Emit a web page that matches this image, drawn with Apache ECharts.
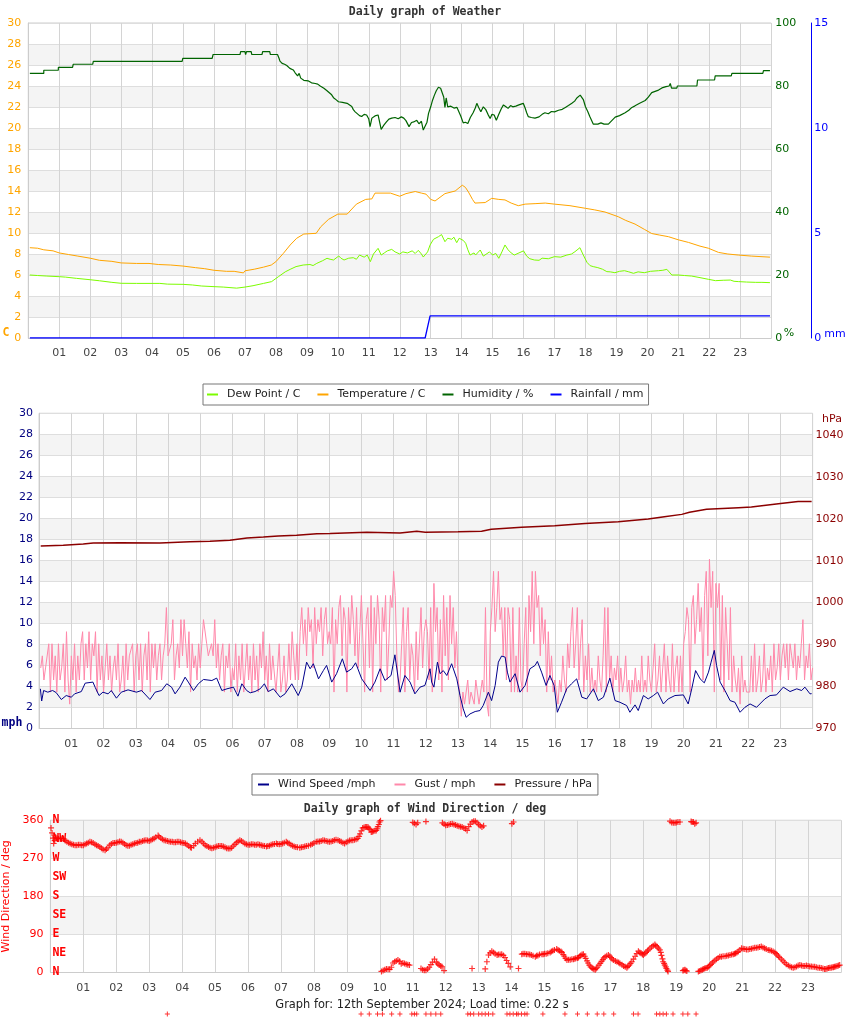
<!DOCTYPE html>
<html><head><meta charset="utf-8">
<script src="https://cdn.jsdelivr.net/npm/echarts@6/dist/echarts.min.js"></script>
<style>html,body{margin:0;padding:0;background:#fff}#c{width:850px;height:1017px}</style>
</head><body><div id="c"></div>
<script>
// ---------- tick labels ----------
const hourLabels = ['01','02','03','04','05','06','07','08','09','10','11','12','13','14','15','16','17','18','19','20','21','22','23'];
const compassLabels = ['N','NE','E','SE','S','SW','W','NW','N'];

// ---------- Panel 1 : weather ([hour, value]) ----------
const temperature = [[0.05,8.6],[0.3,8.55],[0.5,8.4],[0.8,8.3],[1.0,8.1],[1.3,7.95],[1.6,7.8],[2.0,7.6],[2.3,7.4],[2.7,7.3],[3.0,7.15],[3.5,7.1],[3.9,7.1],[4.2,7.0],[4.6,6.95],[5.0,6.85],[5.4,6.7],[5.7,6.6],[6.0,6.45],[6.4,6.35],[6.65,6.35],[6.7,6.2],[6.95,6.2],[7.0,6.4],[7.3,6.55],[7.6,6.75],[7.85,6.95],[8.0,7.27],[8.24,8.06],[8.46,8.86],[8.67,9.5],[8.9,9.9],[9.3,9.97],[9.45,10.6],[9.7,11.3],[10.0,11.8],[10.3,11.8],[10.6,12.75],[10.9,13.2],[11.1,13.25],[11.2,13.8],[11.7,13.8],[12.0,13.5],[12.2,13.75],[12.5,13.95],[12.7,13.8],[12.85,13.7],[13.0,13.2],[13.14,13.05],[13.3,13.4],[13.46,13.75],[13.79,14.0],[14.02,14.55],[14.12,14.35],[14.22,13.9],[14.35,13.2],[14.43,12.85],[14.76,12.9],[14.97,13.3],[15.2,13.2],[15.4,13.15],[15.6,12.85],[15.83,12.6],[16.05,12.75],[16.4,12.8],[16.7,12.85],[17.0,12.75],[17.5,12.6],[18.0,12.35],[18.3,12.2],[18.63,12.0],[19.06,11.55],[19.3,11.2],[19.6,10.85],[19.9,10.35],[20.14,9.95],[20.4,9.8],[20.68,9.65],[21.0,9.35],[21.33,9.1],[21.7,8.75],[21.97,8.55],[22.3,8.15],[22.6,8.0],[22.94,7.9],[23.37,7.8],[23.96,7.7]];

const dewPoint = [[0.05,6.0],[0.3,5.95],[0.6,5.9],[1.0,5.84],[1.2,5.8],[1.56,5.68],[2.0,5.55],[2.3,5.45],[2.7,5.3],[3.0,5.21],[3.5,5.2],[4.25,5.2],[4.5,5.13],[5.0,5.11],[5.3,5.05],[5.6,4.95],[6.0,4.89],[6.3,4.85],[6.73,4.75],[7.0,4.85],[7.26,4.98],[7.6,5.2],[7.86,5.37],[8.08,5.84],[8.3,6.3],[8.46,6.54],[8.65,6.8],[8.88,6.95],[9.1,7.0],[9.2,6.9],[9.32,7.11],[9.5,7.35],[9.65,7.59],[9.75,7.5],[9.86,7.43],[10.03,7.81],[10.1,7.6],[10.2,7.43],[10.35,7.6],[10.5,7.65],[10.6,7.5],[10.7,7.9],[10.85,7.7],[10.95,7.9],[11.05,7.27],[11.15,8.0],[11.3,8.54],[11.4,7.9],[11.5,8.1],[11.6,8.3],[11.74,8.44],[11.85,8.2],[12.0,8.0],[12.1,8.2],[12.25,8.1],[12.4,8.3],[12.5,8.05],[12.6,8.35],[12.7,8.0],[12.76,7.71],[12.82,7.68],[12.9,8.2],[12.98,8.86],[13.09,9.4],[13.25,9.65],[13.35,9.85],[13.41,9.9],[13.46,9.17],[13.55,9.5],[13.68,9.4],[13.75,9.6],[13.84,9.08],[13.92,9.5],[13.98,9.59],[14.05,9.3],[14.13,9.02],[14.2,8.4],[14.27,7.9],[14.4,8.1],[14.45,7.9],[14.6,8.38],[14.7,7.8],[14.76,7.75],[14.9,8.2],[15.0,7.9],[15.1,8.06],[15.2,7.59],[15.3,8.2],[15.4,8.86],[15.5,8.4],[15.6,8.1],[15.7,7.9],[15.85,8.1],[16.0,8.3],[16.1,7.8],[16.2,7.55],[16.35,7.43],[16.5,7.4],[16.6,7.6],[16.8,7.55],[17.0,7.75],[17.2,7.7],[17.4,7.9],[17.55,8.0],[17.66,8.22],[17.82,8.6],[17.93,7.9],[18.05,7.2],[18.15,6.89],[18.25,6.8],[18.4,6.7],[18.55,6.55],[18.69,6.32],[18.8,6.3],[18.95,6.22],[19.1,6.35],[19.26,6.41],[19.4,6.3],[19.55,6.16],[19.7,6.3],[19.9,6.22],[20.1,6.35],[20.36,6.41],[20.5,6.45],[20.63,6.54],[20.7,6.3],[20.79,6.0],[21.0,6.0],[21.2,5.95],[21.43,5.9],[21.7,5.75],[21.97,5.59],[22.2,5.46],[22.45,5.5],[22.68,5.52],[22.8,5.4],[22.95,5.37],[23.2,5.33],[23.5,5.3],[23.7,5.3],[23.96,5.27]];

const humidity = [[0.05,84.0],[0.5,84.0],[0.5,85.0],[0.97,85.0],[0.97,85.9],[1.43,85.9],[1.45,86.9],[2.08,86.9],[2.1,87.8],[4.97,87.8],[4.99,88.8],[5.94,88.8],[5.97,90.0],[6.84,90.0],[6.86,90.9],[7.0,90.9],[7.02,90.0],[7.05,90.9],[7.2,90.9],[7.22,90.0],[7.55,90.0],[7.57,90.9],[7.8,90.9],[7.82,90.0],[8.05,90.0],[8.1,88.8],[8.13,87.9],[8.2,87.2],[8.28,86.9],[8.35,86.5],[8.45,85.6],[8.56,85.1],[8.62,84.2],[8.7,83.2],[8.75,84.0],[8.8,82.5],[8.9,81.8],[8.95,81.4],[9.05,81.6],[9.15,81.0],[9.27,80.8],[9.35,80.6],[9.43,80.0],[9.55,79.3],[9.65,78.5],[9.7,78.2],[9.8,77.2],[9.86,76.3],[9.95,75.6],[10.02,75.0],[10.15,74.8],[10.3,74.5],[10.35,74.0],[10.45,73.5],[10.5,72.5],[10.56,71.8],[10.62,72.2],[10.7,70.6],[10.77,70.3],[10.85,71.0],[10.93,70.8],[11.0,69.5],[11.04,67.1],[11.1,69.8],[11.2,70.5],[11.3,70.8],[11.35,68.5],[11.4,66.2],[11.48,67.5],[11.57,68.6],[11.65,69.5],[11.74,69.8],[11.85,70.0],[11.95,69.6],[12.05,70.2],[12.13,69.8],[12.2,69.0],[12.3,67.1],[12.38,68.4],[12.45,68.6],[12.55,69.1],[12.62,68.0],[12.7,68.8],[12.76,66.0],[12.82,66.0],[12.88,68.5],[12.93,71.3],[13.0,73.4],[13.06,75.5],[13.12,77.1],[13.18,78.5],[13.25,79.6],[13.32,79.3],[13.38,78.9],[13.42,76.5],[13.46,73.2],[13.5,76.2],[13.55,73.4],[13.65,73.6],[13.75,73.0],[13.85,73.2],[13.9,72.9],[13.97,70.5],[14.05,68.3],[14.12,68.5],[14.2,68.1],[14.28,70.0],[14.37,71.5],[14.44,73.0],[14.49,74.5],[14.55,73.2],[14.62,71.8],[14.7,73.4],[14.78,72.5],[14.85,71.0],[14.92,69.7],[14.98,71.0],[15.05,70.8],[15.12,69.1],[15.2,71.0],[15.28,72.8],[15.35,74.0],[15.42,73.5],[15.5,72.9],[15.58,73.8],[15.65,73.4],[15.75,73.6],[15.85,74.0],[15.99,74.5],[16.05,73.0],[16.1,71.5],[16.15,70.3],[16.25,70.0],[16.37,69.8],[16.5,70.2],[16.6,71.0],[16.69,71.5],[16.8,71.2],[16.9,71.9],[17.0,71.8],[17.13,72.3],[17.25,72.6],[17.35,73.2],[17.45,73.8],[17.56,74.5],[17.65,75.2],[17.72,76.2],[17.83,77.1],[17.93,75.7],[18.0,73.4],[18.07,72.0],[18.14,70.3],[18.25,67.9],[18.4,67.9],[18.5,68.3],[18.6,67.9],[18.74,67.9],[18.85,69.0],[18.96,70.1],[19.1,70.6],[19.28,71.5],[19.4,72.3],[19.5,73.2],[19.6,73.7],[19.75,74.5],[19.93,75.4],[20.03,76.5],[20.14,77.9],[20.25,78.3],[20.36,78.7],[20.47,79.4],[20.6,79.8],[20.7,80.0],[20.74,80.8],[20.78,79.3],[20.95,79.3],[20.97,80.0],[21.6,80.0],[21.62,81.9],[22.17,81.9],[22.19,83.2],[22.71,83.2],[22.73,84.0],[23.73,84.0],[23.75,84.9],[23.8,84.3],[23.85,84.9],[23.9,84.4],[23.96,84.9]];

const rainfall = [[0.05,0],[12.82,0],[12.98,1.05],[23.96,1.05]];

// ---------- Panel 2 : wind ----------
const windSpeed = [[0.04,3.76],[0.08,2.6],[0.14,3.6],[0.27,3.44],[0.42,3.6],[0.53,3.4],[0.69,2.74],[0.84,3.12],[1.0,2.96],[1.1,3.28],[1.31,3.5],[1.43,4.3],[1.67,4.4],[1.74,3.9],[1.86,3.12],[1.98,3.44],[2.14,3.28],[2.24,3.6],[2.4,2.87],[2.55,3.44],[2.76,3.66],[3.02,3.44],[3.18,3.6],[3.44,2.74],[3.6,3.44],[3.8,3.6],[3.96,4.24],[4.11,3.92],[4.22,3.28],[4.37,3.92],[4.53,4.87],[4.63,4.4],[4.79,3.6],[4.94,4.24],[5.1,4.65],[5.36,4.55],[5.51,4.78],[5.67,3.6],[5.83,3.76],[6.03,3.92],[6.17,3.06],[6.29,4.24],[6.44,3.6],[6.55,3.38],[6.7,3.5],[6.86,3.76],[6.99,4.24],[7.11,3.5],[7.27,3.76],[7.48,2.96],[7.63,3.28],[7.84,4.24],[8.04,3.12],[8.15,3.92],[8.3,6.3],[8.41,5.67],[8.51,6.15],[8.67,4.71],[8.82,5.5],[8.92,5.99],[9.08,4.4],[9.23,5.2],[9.41,6.62],[9.54,5.35],[9.7,5.67],[9.82,6.24],[10.01,4.71],[10.27,3.6],[10.42,4.4],[10.58,5.67],[10.73,4.55],[10.92,5.03],[11.04,7.0],[11.2,3.44],[11.35,5.03],[11.51,4.4],[11.66,3.28],[11.82,3.92],[11.97,4.08],[12.13,5.67],[12.18,4.4],[12.25,3.92],[12.36,6.3],[12.44,5.2],[12.54,5.5],[12.65,5.03],[12.8,6.15],[12.96,4.71],[13.06,3.12],[13.16,1.85],[13.25,1.05],[13.37,1.37],[13.53,1.6],[13.68,1.69],[13.78,2.17],[13.94,3.44],[14.04,2.64],[14.15,4.08],[14.25,6.3],[14.35,6.88],[14.46,6.78],[14.53,5.35],[14.61,4.4],[14.77,5.2],[14.92,3.44],[15.08,4.08],[15.23,5.67],[15.39,5.99],[15.46,6.37],[15.59,5.35],[15.73,4.08],[15.85,5.03],[15.98,4.08],[16.08,1.53],[16.21,2.48],[16.37,3.76],[16.52,4.24],[16.68,4.71],[16.84,2.96],[16.99,2.8],[17.2,3.76],[17.35,2.64],[17.51,2.96],[17.71,4.78],[17.87,2.64],[18.02,2.48],[18.23,2.17],[18.33,1.53],[18.49,2.23],[18.59,1.69],[18.75,3.12],[18.9,2.8],[19.06,3.12],[19.19,3.44],[19.37,2.32],[19.52,2.8],[19.73,3.12],[19.99,3.18],[20.14,2.32],[20.25,3.76],[20.37,5.5],[20.51,4.71],[20.64,4.33],[20.77,5.35],[20.85,6.3],[20.95,7.42],[21.02,5.99],[21.13,4.4],[21.28,3.6],[21.44,2.64],[21.59,2.48],[21.75,1.53],[21.9,2.0],[22.06,2.32],[22.26,2.0],[22.52,2.8],[22.68,3.12],[22.88,3.18],[23.09,3.92],[23.3,3.5],[23.51,3.76],[23.66,3.6],[23.76,3.92],[23.92,3.28],[23.97,3.3]];

// gust, one reading every 3 minutes from 00:03
const gustStartHour = 0.05, gustStepHour = 0.05;
const gust = [
5.75,6.9,4.6,5.75,5.75,8.05,3.45,8.05,4.6,6.9,3.45,8.05,4.6,5.75,8.05,3.45,9.2,4.6,2.3,6.9,
4.6,8.05,3.45,6.9,4.6,8.05,9.2,4.6,8.05,5.75,9.2,4.6,8.05,6.9,9.2,3.45,8.05,4.6,6.9,3.45,
5.75,8.05,4.6,6.9,3.45,5.75,6.9,4.6,8.05,3.45,4.6,6.9,3.45,8.05,4.6,6.9,6.9,8.05,3.45,6.9,
8.05,4.6,8.05,3.45,6.9,8.05,4.6,9.2,3.45,8.05,5.75,8.05,4.6,6.9,8.05,4.6,6.9,8.05,11.5,6.9,
6.9,8.05,10.35,4.6,6.9,8.05,5.75,10.35,6.9,10.35,8.05,5.75,9.2,3.45,8.05,5.75,6.9,4.6,8.05,5.75,
8.05,10.35,10.35,8.05,6.9,6.9,8.05,6.9,10.35,5.75,8.05,4.6,6.9,8.05,3.45,6.9,5.75,8.05,3.45,5.75,
4.6,8.05,3.45,6.9,4.6,8.05,3.45,5.75,8.05,4.6,6.9,3.45,8.05,4.6,6.9,3.45,8.05,5.75,9.2,4.6,
6.9,3.45,8.05,4.6,6.9,6.9,3.45,5.75,8.05,3.45,4.6,6.9,3.45,4.6,8.05,4.6,9.2,6.9,4.6,8.05,
4.6,9.2,11.5,8.05,10.35,6.9,11.5,9.2,10.35,5.75,11.5,8.05,10.35,9.2,11.5,6.9,10.35,11.5,8.05,9.2,
8.05,11.5,3.45,10.35,8.05,11.5,12.65,6.9,11.5,10.35,3.45,11.5,8.05,12.65,10.35,6.9,11.5,5.75,9.2,12.65,
8.05,3.45,10.35,11.5,5.75,12.65,3.45,11.5,8.05,12.65,10.35,3.45,11.5,9.2,12.65,4.6,8.05,12.65,11.5,14.95,
12.65,6.9,3.45,4.6,8.05,11.5,3.45,9.2,11.5,4.6,8.05,6.9,3.45,9.2,4.6,8.05,11.5,5.75,9.2,10.35,
9.2,4.6,11.5,3.45,13.8,9.2,11.5,4.6,10.35,3.45,12.65,6.9,11.5,4.6,12.65,8.05,11.5,5.75,9.2,4.6,
3.45,1.15,3.45,2.3,3.45,4.6,2.3,3.45,3.45,2.3,4.6,3.45,2.3,3.45,4.6,3.45,11.5,2.3,1.15,9.2,
11.5,14.95,9.2,11.5,14.95,10.35,11.5,6.9,11.5,4.6,11.5,10.35,3.45,11.5,3.45,6.9,3.45,11.5,4.6,3.45,
8.05,11.5,3.45,12.65,9.2,14.95,8.05,14.95,11.5,12.65,6.9,11.5,8.05,10.35,3.45,9.2,4.6,6.9,3.45,4.6,
3.45,2.3,4.6,3.45,6.9,4.6,3.45,8.05,5.75,9.2,11.5,5.75,8.05,11.5,4.6,8.05,10.35,3.45,6.9,4.6,
8.05,3.45,5.75,3.45,4.6,3.45,6.9,4.6,3.45,6.9,11.5,3.45,11.5,4.6,6.9,3.45,5.75,4.6,6.9,3.45,
5.75,3.45,4.6,6.9,3.45,4.6,2.3,4.6,3.45,5.75,3.45,4.6,3.45,6.9,3.45,4.6,3.45,6.9,4.6,3.45,
3.45,8.05,3.45,4.6,6.9,3.45,5.75,8.05,3.45,6.9,4.6,3.45,8.05,3.45,5.75,6.9,3.45,6.9,3.45,8.05,
9.2,11.5,10.35,3.45,11.5,12.65,8.05,10.35,13.8,9.2,11.5,4.6,12.65,14.95,6.9,16.1,11.5,14.95,3.45,13.8,
11.5,13.8,4.6,12.65,3.45,11.5,8.05,4.6,11.5,3.45,6.9,4.6,3.45,5.75,2.3,6.9,3.45,4.6,3.45,3.45,
3.45,6.9,3.45,8.05,3.45,4.6,6.9,3.45,4.6,8.05,3.45,5.75,4.6,6.9,3.45,8.05,4.6,5.75,8.05,4.6,
6.9,8.05,5.75,8.05,4.6,8.05,6.9,5.75,8.05,4.6,6.9,5.75,8.05,10.35,4.6,6.9,5.75,8.05,4.6,5.75
];

const pressure = [[0.05,1013.5],[0.75,1013.7],[1.37,1014.0],[1.68,1014.2],[2.51,1014.3],[3.75,1014.2],[4.68,1014.5],[5.3,1014.65],[5.92,1014.9],[6.45,1015.4],[6.96,1015.65],[7.42,1015.9],[7.99,1016.05],[8.62,1016.4],[9.03,1016.5],[10.17,1016.8],[11.2,1016.6],[11.72,1017.0],[11.98,1016.8],[13.0,1016.9],[13.73,1017.0],[14.03,1017.5],[14.97,1018.0],[16.0,1018.35],[16.94,1018.9],[17.97,1019.3],[18.9,1019.95],[19.4,1020.5],[19.94,1021.05],[20.18,1021.55],[20.71,1022.25],[21.7,1022.65],[22.1,1022.8],[22.94,1023.6],[23.55,1024.1],[23.97,1024.15]];

// ---------- Panel 3 : wind direction ([hour, deg]) ----------
const windDirection = [[0.02,342],[0.05,330],[0.08,318],[0.1,305],[0.13,312],[0.16,320],[0.2,318],[0.25,316],[0.3,317],[0.35,317],[0.4,316],[0.45,312],[0.5,309],[0.55,307],[0.6,305],[0.65,303],[0.7,302],[0.75,301],[0.8,301],[0.85,302],[0.9,302],[0.95,301],[1.0,301],[1.05,303],[1.1,305],[1.15,307],[1.2,309],[1.25,308],[1.3,306],[1.35,303],[1.4,301],[1.45,299],[1.5,297],[1.55,294],[1.6,291],[1.66,289],[1.7,292],[1.75,295],[1.8,301],[1.85,304],[1.9,306],[1.95,306],[2.0,307],[2.05,308],[2.1,310],[2.15,309],[2.2,307],[2.25,304],[2.3,301],[2.35,300],[2.4,300],[2.45,302],[2.5,303],[2.55,305],[2.6,306],[2.65,307],[2.7,309],[2.75,309],[2.8,311],[2.85,312],[2.9,313],[2.95,312],[3.0,311],[3.05,313],[3.1,315],[3.15,317],[3.2,320],[3.27,324],[3.3,321],[3.35,318],[3.4,315],[3.45,313],[3.5,312],[3.55,311],[3.6,310],[3.65,309],[3.7,309],[3.75,308],[3.8,308],[3.85,309],[3.9,309],[3.95,308],[4.0,307],[4.05,306],[4.1,305],[4.15,302],[4.2,299],[4.25,296],[4.28,295],[4.35,300],[4.4,305],[4.47,309],[4.54,313],[4.6,309],[4.65,305],[4.7,301],[4.75,299],[4.8,297],[4.85,295],[4.9,294],[4.95,295],[5.0,296],[5.05,298],[5.1,299],[5.15,299],[5.2,299],[5.25,298],[5.3,296],[5.35,294],[5.4,293],[5.45,293],[5.5,295],[5.55,299],[5.6,303],[5.65,307],[5.7,310],[5.75,313],[5.8,311],[5.85,308],[5.9,305],[5.95,303],[6.0,302],[6.05,302],[6.1,303],[6.15,303],[6.2,302],[6.25,302],[6.3,303],[6.35,302],[6.4,301],[6.45,300],[6.5,299],[6.56,298],[6.6,299],[6.65,300],[6.7,302],[6.75,303],[6.8,304],[6.86,305],[6.9,304],[6.95,303],[7.0,304],[7.05,305],[7.1,307],[7.16,309],[7.2,307],[7.25,305],[7.3,302],[7.35,300],[7.4,298],[7.45,297],[7.5,296],[7.57,295],[7.62,296],[7.67,297],[7.72,298],[7.77,299],[7.83,300],[7.9,302],[7.95,304],[8.0,306],[8.07,309],[8.12,310],[8.17,310],[8.22,311],[8.27,313],[8.32,312],[8.37,311],[8.42,310],[8.47,309],[8.52,310],[8.57,311],[8.62,313],[8.67,314],[8.73,313],[8.78,311],[8.83,309],[8.88,307],[8.93,305],[8.98,308],[9.03,310],[9.08,312],[9.13,313],[9.18,313],[9.23,314],[9.28,315],[9.33,317],[9.37,322],[9.4,328],[9.44,335],[9.48,342],[9.52,343],[9.56,344],[9.6,344],[9.64,344],[9.67,341],[9.7,338],[9.74,332],[9.77,333],[9.8,334],[9.85,335],[9.89,336],[9.92,340],[9.94,345],[9.97,350],[9.99,356],[10.02,359],
[10.05,2],[10.1,4],[10.15,6],[10.2,8],[10.25,7],[10.3,7],[10.35,12],[10.4,22],[10.45,25],[10.5,27],[10.55,29],[10.6,26],[10.65,20],[10.7,22],[10.75,21],[10.8,19],[10.85,18],[10.9,17],
[11.0,355],[11.05,353],[11.1,350],[11.15,354],[11.4,357],
[11.25,9],[11.3,6],[11.35,5],[11.4,5],[11.45,8],[11.5,12],[11.55,18],[11.6,24],[11.66,31],[11.72,24],[11.76,20],[11.8,17],[11.85,15],[11.89,13],[11.95,4],
[11.9,354],[11.95,351],[12.0,348],[12.05,349],[12.1,350],[12.15,351],[12.2,352],[12.25,350],[12.3,349],[12.35,347],[12.4,346],[12.45,345],[12.5,344],[12.55,342],[12.6,340],[12.65,336],[12.7,345],[12.75,351],[12.8,356],[12.85,358],[12.9,358],[12.95,354],[13.0,350],[13.05,347],[13.1,344],[13.15,347],
[12.8,9],[13.2,8],[13.25,25],[13.3,41],[13.35,46],[13.4,50],[13.45,47],[13.5,44],[13.56,41],[13.6,42],[13.65,42],[13.7,43],[13.75,40],[13.8,35],[13.85,28],[13.9,21],[13.96,13],
[14.01,352],[14.06,356],[14.21,9],
[14.31,43],[14.35,44],[14.4,44],[14.45,43],[14.5,43],[14.55,42],[14.6,41],[14.65,39],[14.72,37],[14.76,39],[14.8,40],[14.85,42],[14.92,43],[14.96,43],[15.0,44],[15.05,44],[15.1,45],[15.17,47],[15.21,49],[15.25,51],[15.3,53],[15.37,55],[15.41,53],[15.45,51],[15.5,49],[15.53,47],[15.57,42],[15.6,38],[15.64,33],[15.68,29],[15.73,30],[15.78,30],[15.83,31],[15.88,31],[15.92,32],[15.95,33],[16.0,34],[16.03,35],[16.07,38],[16.1,40],[16.14,42],[16.18,43],[16.22,38],[16.25,33],[16.29,27],[16.32,22],[16.36,17],[16.4,13],[16.44,10],[16.47,9],[16.5,7],[16.54,6],[16.57,9],[16.6,12],[16.65,17],[16.69,21],[16.73,26],[16.77,30],[16.8,34],[16.84,37],[16.89,39],[16.94,41],[16.98,38],[17.02,35],[17.05,32],[17.09,29],[17.15,27],[17.2,25],[17.25,23],[17.29,21],[17.35,18],[17.4,15],[17.45,13],[17.5,11],[17.53,14],[17.57,17],[17.61,21],[17.65,25],[17.7,31],[17.75,38],[17.8,44],[17.85,50],[17.89,47],[17.93,45],[17.97,43],[18.0,41],[18.04,44],[18.08,47],[18.12,50],[18.15,53],[18.2,57],[18.25,60],[18.3,63],[18.35,66],[18.38,63],[18.42,60],[18.46,57],[18.5,53],[18.53,47],[18.55,40],[18.58,32],[18.6,25],[18.63,21],[18.65,17],[18.68,13],[18.7,9],[18.73,5],[18.75,2],
[18.81,358],[18.86,355],[18.91,354],[18.96,354],[19.0,355],[19.05,356],[19.11,356],[19.45,357],[19.48,356],[19.52,356],[19.56,352],[19.6,354],
[19.2,4],[19.23,5],[19.26,6],[19.29,4],[19.32,3],[19.67,2],[19.71,3],[19.75,5],[19.79,6],[19.82,8],[19.86,9],[19.9,10],[19.94,11],[19.97,13],[20.01,16],[20.05,19],[20.09,22],[20.12,25],[20.17,28],[20.22,31],[20.27,34],[20.32,37],[20.37,37],[20.42,38],[20.48,38],[20.53,39],[20.58,40],[20.63,41],[20.68,42],[20.73,43],[20.77,44],[20.8,45],[20.84,47],[20.88,49],[20.93,53],[20.98,57],[21.03,56],[21.08,55],[21.13,54],[21.18,54],[21.23,55],[21.28,56],[21.33,57],[21.38,58],[21.43,58],[21.48,59],[21.53,60],[21.58,61],[21.63,59],[21.68,57],[21.73,55],[21.79,53],[21.84,52],[21.89,51],[21.94,49],[21.99,47],[22.03,44],[22.06,41],[22.1,38],[22.14,35],[22.19,31],[22.24,27],[22.29,23],[22.34,19],[22.4,16],[22.45,14],[22.5,12],[22.55,11],[22.6,12],[22.65,14],[22.7,16],[22.75,17],[22.8,16],[22.85,15],[22.9,15],[22.95,16],[23.0,15],[23.05,14],[23.1,14],[23.15,13],[23.2,13],[23.25,12],[23.3,11],[23.35,11],[23.4,10],[23.45,9],[23.5,8],[23.54,8],[23.58,9],[23.62,10],[23.66,11],[23.7,11],[23.73,12],[23.77,12],[23.8,13],[23.84,14],[23.88,15],[23.92,16],[23.96,17]];

// points drawn below the direction plot in the reference
const windDirOffscale = [[3.55,-99],[9.43,-99],[9.68,-99],[9.93,-99],[10.08,-99],[10.36,-99],[10.61,-99],[10.97,-99],[11.05,-99],[11.12,-99],[11.4,-99],[11.55,-99],[11.7,-99],[11.85,-99],[12.67,-99],[12.75,-99],[12.85,-99],[13.0,-99],[13.1,-99],[13.2,-99],[13.3,-99],[13.43,-99],[13.86,-99],[13.95,-99],[14.05,-99],[14.15,-99],[14.2,-99],[14.3,-99],[14.4,-99],[14.47,-99],[14.95,-99],[15.62,-99],[16.0,-99],[16.3,-99],[16.6,-99],[16.8,-99],[17.1,-99],[17.7,-99],[17.84,-99],[18.4,-99],[18.5,-99],[18.6,-99],[18.7,-99],[18.9,-99],[19.2,-99],[19.35,-99],[19.6,-99]];

// ---------- build ----------
const gustData = gust.map((v, i) => [gustStartHour + i * gustStepHour, v]);

const SANS = 'DejaVu Sans', MONO = 'DejaVu Sans Mono';
const hourFmt = v => (v >= 1 && v <= 23) ? hourLabels[v - 1] : '';
function xAx(gi) {
  return { type: 'value', gridIndex: gi, min: 0, max: 24, interval: 1,
    axisLine: { show: true, lineStyle: { color: '#cccccc' } }, axisTick: { show: false },
    axisLabel: { formatter: hourFmt, color: '#444', fontFamily: SANS, fontSize: 11, margin: 10, showMinLabel: false, showMaxLabel: false },
    splitLine: { show: true, lineStyle: { color: '#d4d4d4', width: 1 } } };
}
const bands = { show: true, areaStyle: { color: ['#ffffff', '#f4f4f4'] } };
const hLines = { show: true, lineStyle: { color: '#dedede', width: 1 } };
const gridBase = { show: true, borderColor: '#cccccc', borderWidth: 1, backgroundColor: 'transparent', containLabel: false, outerBoundsMode: 'none' };
const plus = 'path://M2,0L3,0L3,2L5,2L5,3L3,3L3,5L2,5L2,3L0,3L0,2L2,2Z';
const legendText = { fontFamily: SANS, fontSize: 11, color: '#222', rich: { g: { width: 4 } } };

const option = {
  animation: false,
  backgroundColor: '#ffffff',
  title: [
    { text: 'Daily graph of Weather', left: 'center', top: 6, padding: 0,
      textStyle: { fontFamily: MONO, fontWeight: 'bold', fontSize: 11.5, color: '#333' } },
    { text: 'Daily graph of Wind Direction / deg', left: 'center', top: 803, padding: 0,
      textStyle: { fontFamily: MONO, fontWeight: 'bold', fontSize: 11.5, color: '#333' } }
  ],
  legend: [
    { data: ['Dew Point / C', 'Temperature / C', 'Humidity / %', 'Rainfall / mm'],
      formatter: '{g| }{name}',
      left: 203, top: 384, padding: [5, 5, 5, 4], itemGap: 17, itemWidth: 11, itemHeight: 2,
      icon: 'rect', borderColor: '#777', borderWidth: 1, borderRadius: 0, backgroundColor: '#fff',
      textStyle: legendText, selectedMode: false },
    { data: ['Wind Speed /mph', 'Gust / mph', 'Pressure / hPa'],
      formatter: '{g| }{name}',
      left: 252, top: 774, padding: [5, 6, 5, 6], itemGap: 19, itemWidth: 11, itemHeight: 2,
      icon: 'rect', borderColor: '#777', borderWidth: 1, borderRadius: 0, backgroundColor: '#fff',
      textStyle: legendText, selectedMode: false }
  ],
  grid: [
    Object.assign({ left: 28.3, top: 23, width: 742.9, height: 315 }, gridBase),
    Object.assign({ left: 39.1, top: 413.3, width: 773.5, height: 315 }, gridBase),
    Object.assign({ left: 50.4, top: 820.3, width: 790.6, height: 152 }, gridBase)
  ],
  xAxis: [xAx(0), xAx(1), xAx(2)],
  yAxis: [
    { type: 'value', gridIndex: 0, position: 'left', min: 0, max: 30, interval: 2,
      axisLine: { show: true, lineStyle: { color: '#cccccc' } }, axisTick: { show: false },
      axisLabel: { color: '#FFA500', fontFamily: SANS, fontSize: 11, margin: 7 },
      splitLine: hLines, splitArea: bands },
    { type: 'value', gridIndex: 0, position: 'right', min: 0, max: 100, interval: 20,
      axisLine: { show: false }, axisTick: { show: false },
      axisLabel: { color: '#006400', fontFamily: SANS, fontSize: 11, margin: 4 },
      splitLine: { show: false }, splitArea: { show: false } },
    { type: 'value', gridIndex: 0, position: 'right', offset: 40, min: 0, max: 15, interval: 5,
      axisLine: { show: true, lineStyle: { color: '#0000FF', width: 1 } }, axisTick: { show: false },
      axisLabel: { color: '#0000FF', fontFamily: SANS, fontSize: 11, margin: 3 },
      splitLine: { show: false }, splitArea: { show: false } },
    { type: 'value', gridIndex: 1, position: 'left', min: 0, max: 30, interval: 2,
      axisLine: { show: true, lineStyle: { color: '#cccccc' } }, axisTick: { show: false },
      axisLabel: { color: '#000080', fontFamily: SANS, fontSize: 11, margin: 6 },
      splitLine: hLines, splitArea: bands },
    { type: 'value', gridIndex: 1, position: 'right', min: 970, max: 1045.17, interval: 10,
      axisLine: { show: false }, axisTick: { show: false },
      axisLabel: { color: '#8B0000', fontFamily: SANS, fontSize: 11, margin: 3, showMaxLabel: false,
        formatter: v => String(Math.round(v)) },
      splitLine: { show: false }, splitArea: { show: false } },
    { type: 'value', gridIndex: 2, position: 'left', min: 0, max: 360, interval: 90,
      name: 'Wind Direction / deg', nameLocation: 'middle', nameGap: 27, nameRotate: 90,
      nameTextStyle: { color: '#FF0000', fontFamily: SANS, fontSize: 11 },
      axisLine: { show: true, lineStyle: { color: '#cccccc' } }, axisTick: { show: false },
      axisLabel: { color: '#FF0000', fontFamily: SANS, fontSize: 11, margin: 7 },
      splitLine: hLines, splitArea: bands },
    { type: 'value', gridIndex: 2, position: 'left', min: 0, max: 360, interval: 45,
      axisLine: { show: false }, axisTick: { show: false },
      axisLabel: { inside: true, margin: 2, formatter: v => compassLabels[v / 45] || '',
        color: '#FF0000', fontFamily: MONO, fontWeight: 'bold', fontSize: 11.5 },
      splitLine: { show: false }, splitArea: { show: false } }
  ],
  series: [
    { name: 'Dew Point / C', type: 'line', xAxisIndex: 0, yAxisIndex: 0, data: dewPoint, showSymbol: false, silent: true,
      color: '#7CFC00', lineStyle: { color: '#7CFC00', width: 1 } },
    { name: 'Temperature / C', type: 'line', xAxisIndex: 0, yAxisIndex: 0, data: temperature, showSymbol: false, silent: true,
      color: '#FFA500', lineStyle: { color: '#FFA500', width: 1 } },
    { name: 'Humidity / %', type: 'line', xAxisIndex: 0, yAxisIndex: 1, data: humidity, showSymbol: false, silent: true,
      color: '#006400', lineStyle: { color: '#006400', width: 1.2 } },
    { name: 'Rainfall / mm', type: 'line', xAxisIndex: 0, yAxisIndex: 2, data: rainfall, showSymbol: false, silent: true,
      color: '#0000FF', lineStyle: { color: '#0000FF', width: 1.3 } },
    { name: 'Gust / mph', type: 'line', xAxisIndex: 1, yAxisIndex: 3, data: gustData, showSymbol: false, silent: true,
      color: '#FF88AA', lineStyle: { color: '#FF88AA', width: 1 } },
    { name: 'Wind Speed /mph', type: 'line', xAxisIndex: 1, yAxisIndex: 3, data: windSpeed, showSymbol: false, silent: true,
      color: '#00008B', lineStyle: { color: '#00008B', width: 1 } },
    { name: 'Pressure / hPa', type: 'line', xAxisIndex: 1, yAxisIndex: 4, data: pressure, showSymbol: false, silent: true,
      color: '#8B0000', lineStyle: { color: '#8B0000', width: 1.5 } },
    { name: 'Wind Direction', type: 'scatter', xAxisIndex: 2, yAxisIndex: 5, data: windDirection, silent: true,
      symbol: plus, symbolSize: 6, itemStyle: { color: '#FF0000' } },
    { name: 'Wind Direction offscale', type: 'scatter', xAxisIndex: 2, yAxisIndex: 5, data: windDirOffscale, silent: true, clip: false,
      symbol: plus, symbolSize: 5, itemStyle: { color: '#FF0000' } }
  ],
  graphic: [
    { type: 'text', x: 6, y: 333, style: { text: 'C', font: 'bold 11.5px "DejaVu Sans Mono"', fill: '#FFA500', align: 'center', verticalAlign: 'middle' } },
    { type: 'text', x: 789, y: 333, style: { text: '%', font: '11px "DejaVu Sans"', fill: '#006400', align: 'center', verticalAlign: 'middle' } },
    { type: 'text', x: 835, y: 334, style: { text: 'mm', font: '11px "DejaVu Sans"', fill: '#0000FF', align: 'center', verticalAlign: 'middle' } },
    { type: 'text', x: 12, y: 723, style: { text: 'mph', font: 'bold 11.5px "DejaVu Sans Mono"', fill: '#000080', align: 'center', verticalAlign: 'middle' } },
    { type: 'text', x: 832, y: 419, style: { text: 'hPa', font: '11px "DejaVu Sans"', fill: '#8B0000', align: 'center', verticalAlign: 'middle' } },
    { type: 'text', x: 422, y: 1005, style: { text: 'Graph for: 12th September 2024; Load time: 0.22 s', font: '11.4px "DejaVu Sans"', fill: '#222', align: 'center', verticalAlign: 'middle' } }
  ]
};

const chart = echarts.init(document.getElementById('c'), null, { renderer: 'canvas' });
chart.setOption(option);
</script>
</body></html>
